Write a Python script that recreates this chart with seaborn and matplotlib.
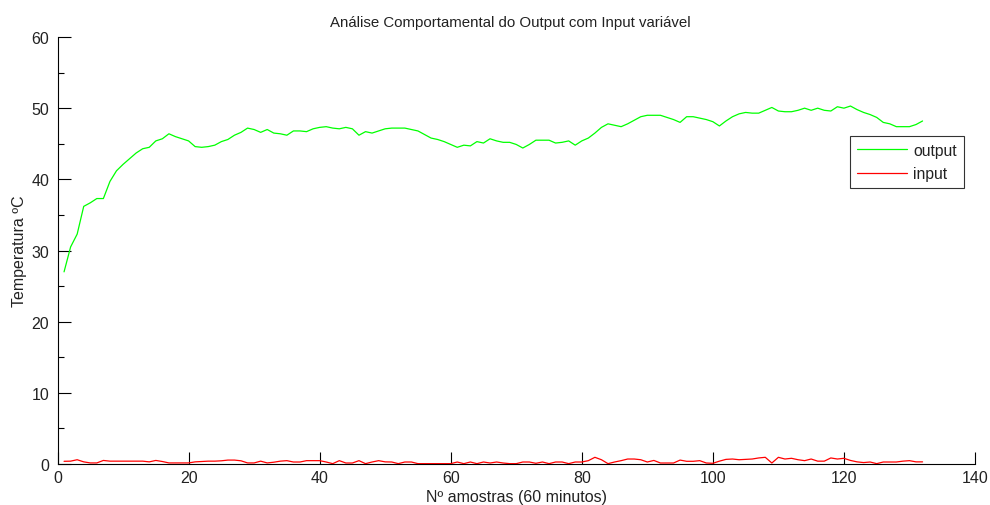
import numpy as np
import pandas as pd
import matplotlib
matplotlib.use("Agg")
import matplotlib.pyplot as plt
import seaborn as sns

samples = list(range(1, 133))

output_vals = [
    27.0, 30.5, 32.3, 36.2, 36.7, 37.3, 37.3, 39.7, 41.2, 42.1,
    42.9, 43.7, 44.3, 44.5, 45.4, 45.7, 46.4, 46.0, 45.7, 45.4,
    44.6, 44.5, 44.6, 44.8, 45.3, 45.6, 46.2, 46.6, 47.2, 47.0,
    46.6, 47.0, 46.5, 46.4, 46.2, 46.8, 46.8, 46.7, 47.1, 47.3,
    47.4, 47.2, 47.1, 47.3, 47.1, 46.2, 46.7, 46.5, 46.8, 47.1,
    47.2, 47.2, 47.2, 47.0, 46.8, 46.3, 45.8, 45.6, 45.3, 44.9,
    44.5, 44.8, 44.7, 45.3, 45.1, 45.7, 45.4, 45.2, 45.2, 44.9,
    44.4, 44.9, 45.5, 45.5, 45.5, 45.1, 45.2, 45.4, 44.8, 45.4,
    45.8, 46.5, 47.3, 47.8, 47.6, 47.4, 47.8, 48.3, 48.8, 49.0,
    49.0, 49.0, 48.7, 48.4, 48.0, 48.8, 48.8, 48.6, 48.4, 48.1,
    47.5, 48.2, 48.8, 49.2, 49.4, 49.3, 49.3, 49.7, 50.1, 49.6,
    49.5, 49.5, 49.7, 50.0, 49.7, 50.0, 49.7, 49.6, 50.2, 50.0,
    50.3, 49.8, 49.4, 49.1, 48.7, 48.0, 47.8, 47.4, 47.4, 47.4,
    47.7, 48.2,
]

input_vals = [
    0.38, 0.40, 0.60, 0.30, 0.15, 0.15, 0.50, 0.40, 0.40, 0.40,
    0.40, 0.40, 0.40, 0.30, 0.50, 0.35, 0.15, 0.15, 0.15, 0.15,
    0.30, 0.35, 0.40, 0.40, 0.45, 0.55, 0.55, 0.45, 0.15, 0.15,
    0.40, 0.15, 0.25, 0.40, 0.47, 0.28, 0.28, 0.47, 0.47, 0.47,
    0.28, 0.05, 0.47, 0.14, 0.14, 0.47, 0.05, 0.28, 0.47, 0.30,
    0.28, 0.05, 0.28, 0.28, 0.05, 0.05, 0.05, 0.05, 0.05, 0.05,
    0.28, 0.05, 0.28, 0.05, 0.28, 0.14, 0.28, 0.14, 0.05, 0.05,
    0.28, 0.28, 0.10, 0.28, 0.05, 0.28, 0.28, 0.05, 0.28, 0.28,
    0.47, 0.94, 0.60, 0.05, 0.28, 0.47, 0.70, 0.70, 0.60, 0.28,
    0.50, 0.14, 0.14, 0.14, 0.55, 0.38, 0.38, 0.47, 0.14, 0.10,
    0.40, 0.65, 0.70, 0.60, 0.65, 0.70, 0.85, 0.94, 0.14, 0.94,
    0.70, 0.80, 0.60, 0.47, 0.70, 0.40, 0.40, 0.85, 0.70, 0.80,
    0.50, 0.30, 0.20, 0.28, 0.05, 0.28, 0.28, 0.28, 0.40, 0.47,
    0.30, 0.30,
]

series_names = ["output", "input"]
series_colors = {"output": "#00ff00", "input": "#ff0000"}

title = "Análise Comportamental do Output com Input variável"
xlabel = "Nº amostras (60 minutos)"
ylabel = "Temperatura ºC"

df = pd.DataFrame({
    "x": samples * 2,
    "y": output_vals + input_vals,
    "serie": ["output"] * len(samples) + ["input"] * len(samples),
})

sns.set_style("white")
plt.rcParams["font.family"] = ["Liberation Sans", "DejaVu Sans"]

fig = plt.figure(figsize=(9.9, 5.06), dpi=100)
ax = fig.add_axes([57.5 / 990, 41 / 506, 917.5 / 990, 427 / 506])

sns.lineplot(data=df, x="x", y="y", hue="serie", hue_order=series_names,
             palette=series_colors, linewidth=0.9, ax=ax, legend=True)

ax.set_xlim(0, 140)
ax.set_ylim(0, 60)
ax.set_xticks(range(0, 141, 20))
ax.set_yticks(range(0, 61, 10))
ax.set_yticks(range(5, 60, 10), minor=True)

for side in ["top", "right"]:
    ax.spines[side].set_visible(False)
for side in ["left", "bottom"]:
    ax.spines[side].set_color("black")
    ax.spines[side].set_linewidth(0.8)

ax.tick_params(axis="both", which="both", direction="in",
               width=0.8, color="black", labelsize=11.5, labelcolor="#222222",
               left=True, bottom=True, top=False, right=False)
ax.tick_params(axis="both", which="major", length=9)
ax.tick_params(axis="y", which="minor", length=4.5)
ax.tick_params(axis="x", which="major", pad=4)
ax.tick_params(axis="y", which="major", pad=6)

ax.set_title(title, fontsize=10.8, color="#222222", pad=8, x=0.493)
ax.set_xlabel(xlabel, fontsize=11.5, color="#222222", labelpad=3)
ax.set_ylabel(ylabel, fontsize=11.5, color="#222222", labelpad=3)

leg = ax.legend(loc="upper right", bbox_to_anchor=(0.988, 0.769),
                frameon=True, fancybox=False, shadow=False,
                handlelength=3.2, handletextpad=0.4, borderpad=0.45,
                labelspacing=0.55, fontsize=11.3, borderaxespad=0)
leg.get_frame().set_edgecolor("black")
leg.get_frame().set_linewidth(0.8)
for txt in leg.get_texts():
    txt.set_color("#222222")

fig.savefig("out.png", dpi=100, facecolor="white")
